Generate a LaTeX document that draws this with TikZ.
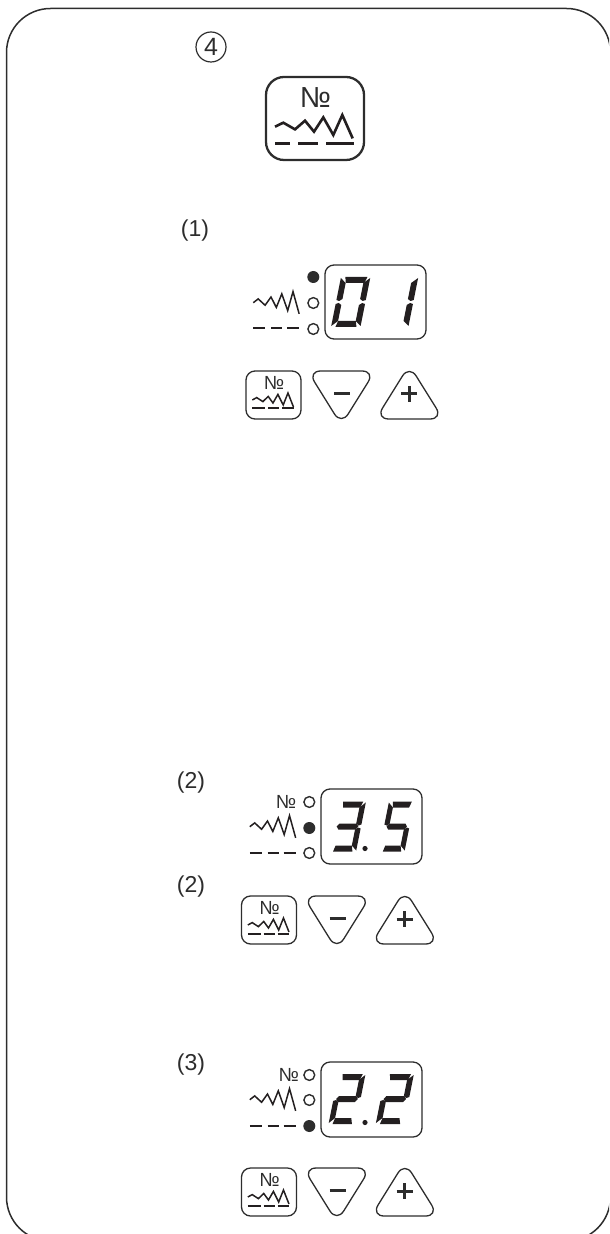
\documentclass[tikz,border=0pt]{standalone}
\usepackage{fontspec}
\setmainfont{Liberation Sans}
\usetikzlibrary{arrows.meta,positioning,calc}
\definecolor{paneldark}{RGB}{45,45,45}
\definecolor{segdark}{RGB}{35,31,32}
\tikzset{
  panel frame/.style={draw=paneldark, line width=0.75pt, rounded corners=22pt},
  key outline/.style={draw=paneldark, line width=0.65pt, rounded corners=4.5pt},
  tri outline/.style={draw=paneldark, line width=0.65pt, rounded corners=6.5pt},
  key sign/.style={draw=paneldark, line width=1.5pt},
  stitch line/.style={draw=segdark, line width=0.75pt, line join=miter},
  dash line/.style={draw=segdark, line width=1pt},
  step label/.style={font=\fontsize{11.5}{13}\selectfont, text=paneldark, inner sep=0pt},
  numero label/.style={font=\fontsize{9.5}{10}\selectfont, text=paneldark, inner sep=0pt},
  led on/.style={fill=paneldark},
  led off/.style={draw=paneldark, line width=0.7pt, fill=white},
}
% zigzag of the stitch symbol, start at the current origin
\newcommand{\zigline}{(0,0) -- (8.3,-4) -- (20,2.7) -- (30,-6) -- (39,5) -- (48.3,-9.3) -- (58.3,8.3) -- (67.3,-11.7) -- (77.7,11.7)}
% seven segments, digit box 30 x 50
\newcommand{\segA}{\fill[segdark] (4.5,0) -- (27,0) -- (25,6) -- (6,6) -- cycle;}
\newcommand{\segB}{\fill[segdark] (30,1) -- (30,23) -- (27,24) -- (24,22) -- (24,6) -- cycle;}
\newcommand{\segC}{\fill[segdark] (30,27) -- (30,49) -- (24,44) -- (24,28) -- (27,26) -- cycle;}
\newcommand{\segD}{\fill[segdark] (6,44) -- (24,44) -- (26,50) -- (4.5,50) -- cycle;}
\newcommand{\segE}{\fill[segdark] (0,27) -- (3,26) -- (6,28) -- (6,44) -- (0,49) -- cycle;}
\newcommand{\segF}{\fill[segdark] (0,1) -- (6,6) -- (6,22) -- (3,24) -- (0,23) -- cycle;}
\newcommand{\segG}{\fill[segdark] (5.5,22) -- (24.5,22) -- (27,25) -- (24.5,28) -- (5.5,28) -- (3,25) -- cycle;}
\newcommand{\digitat}[4]{%
  \begin{scope}[shift={(#1,#2)}, cm={1,0,0.2,1,(10,0)}, xscale=#3]
    #4
  \end{scope}}
% row of three keys, drawn at the place of panel (1)
\newcommand{\keyrow}[3]{%
  \begin{scope}[shift={(#1,#2)}]
    \draw[key outline] (246,371) rectangle (301,419);
    \node[numero label] (#3no) at (274,383) {№};
    \draw[stitch line, shift={(252.3,400)}, xscale=0.53, yscale=0.6] \zigline;
    \foreach \xa/\xb in {252.3/265,268/279,282/293.5}{
      \draw[dash line] (\xa,408.5) -- (\xb,408.5);
    }
    \draw[tri outline] (307.7,371) -- (375,371) -- (341.3,425) -- cycle;
    \draw[key sign] (334,393.5) -- (350,393.5);
    \draw[tri outline] (375.7,419) -- (443,419) -- (409.3,365) -- cycle;
    \draw[key sign] (401,394) -- (417,394) (409,386) -- (409,402);
  \end{scope}}
% stitch and dash symbols beside the lamps
\newcommand{\stitchsyms}[2]{%
  \begin{scope}[shift={(#1,#2)}]
    \draw[stitch line, shift={(253.3,302.7)}, xscale=0.59, yscale=0.95] \zigline;
    \foreach \xa/\xb in {253.3/265,271/282,287/299}{
      \draw[dash line] (\xa,328.5) -- (\xb,328.5);
    }
  \end{scope}}

\begin{document}
\begin{tikzpicture}[x=0.5pt,y=-0.5pt]
  \path[use as bounding box] (0,0) rectangle (609,1234);
  \clip (0,0) rectangle (609,1234);
  \draw[panel frame] (6.5,8.5) rectangle (610.5,1241);

  % Selector key
  \node[draw=paneldark, circle, line width=0.6pt, minimum size=15pt, inner sep=0pt,
    font=\fontsize{12.5}{13}\selectfont, text=paneldark] (stepfour) at (211,47) {4};
  \draw[draw=paneldark, line width=1.15pt, rounded corners=9pt] (266,77) rectangle (364,160);
  \node[font=\fontsize{14.5}{16}\selectfont, text=paneldark, inner sep=0pt] (bigno) at (315.5,97.5) {№};
  \draw[stitch line, line width=1.3pt, shift={(275,126.7)}] \zigline;
  \foreach \xa/\xb in {275/290,298/318,326/353.5}{
    \draw[dash line, line width=1.6pt] (\xa,143.5) -- (\xb,143.5);
  }

  % Panel 1
  \node[step label] (stepone) at (195,231) {(1)};
  \stitchsyms{0}{0}
  \fill[led on] (313.3,277) circle (3pt);
  \draw[led off] (313.3,303) circle (2.7pt);
  \draw[led off] (313.3,329) circle (2.7pt);
  \draw[key outline] (325,265) rectangle (426,339);
  \digitat{331}{277}{0.98}{\segA\segB\segC\segD\segE\segF}
  \digitat{378.3}{277}{1}{\segB\segC}
  \keyrow{0}{0}{one}

  % Panel 2
  \node[step label] (steptwo) at (191,783) {(2)};
  \node[numero label] (ledtwo) at (286,802) {№};
  \stitchsyms{-3.5}{524}
  \draw[led off] (309.3,802) circle (2.7pt);
  \fill[led on] (309.3,828) circle (3pt);
  \draw[led off] (309.3,853) circle (2.7pt);
  \draw[key outline] (321,789) rectangle (422,864);
  \digitat{329}{801.5}{0.9}{\segA\segB\segC\segD\segG}
  \fill[segdark] (365,848.5) circle (1.3pt);
  \digitat{379}{801.5}{0.85}{\segA\segC\segD\segF\segG}
  \node[step label] (steptwob) at (191,887) {(2)};
  \keyrow{-4.5}{525}{two}

  % Panel 3
  \node[step label] (stepthree) at (191,1065) {(3)};
  \node[numero label] (ledthree) at (288.7,1075) {№};
  \stitchsyms{-3.5}{797}
  \draw[led off] (309.3,1075) circle (2.7pt);
  \draw[led off] (309.3,1100) circle (2.7pt);
  \fill[led on] (309.3,1126) circle (3pt);
  \draw[key outline] (321,1062) rectangle (422,1137);
  \digitat{328.5}{1074}{0.9}{\segA\segB\segD\segE\segG}
  \fill[segdark] (365,1122.5) circle (1.3pt);
  \digitat{375.7}{1074}{0.94}{\segA\segB\segD\segE\segG}
  \keyrow{-4.5}{797}{three}
\end{tikzpicture}
\end{document}
